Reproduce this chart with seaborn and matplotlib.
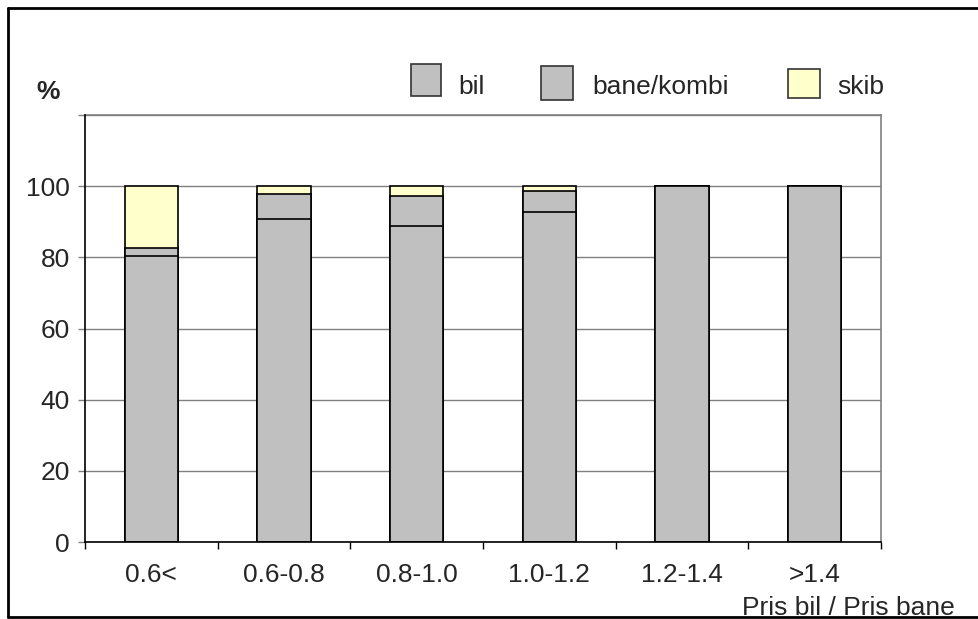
import matplotlib
matplotlib.use("Agg")
import matplotlib.pyplot as plt
from matplotlib.patches import Rectangle
from matplotlib.lines import Line2D
import numpy as np
import pandas as pd
import seaborn as sns

# Price-ratio classes (car price / rail price) and mode shares in percent
categories = ["0.6<", "0.6-0.8", "0.8-1.0", "1.0-1.2", "1.2-1.4", ">1.4"]
bil = [80.4, 90.9, 88.9, 92.6, 100.0, 100.0]
bane_kombi = [2.1, 6.8, 8.3, 6.1, 0.0, 0.0]
skib = [17.5, 2.3, 2.8, 1.3, 0.0, 0.0]
series_names = ["bil", "bane/kombi", "skib"]
y_ticks = [0, 20, 40, 60, 80, 100, 120]

GREY = "#c0c0c0"
YELLOW = "#ffffcc"
FONT = "Liberation Sans"
FS = 19

sns.set_theme(style="white")
plt.rcParams["font.family"] = [FONT, "DejaVu Sans"]

df = pd.DataFrame({"kat": categories, "bil": bil, "bane": bane_kombi, "skib": skib})
df["lvl_bil"] = df["bil"]
df["lvl_bane"] = df["bil"] + df["bane"]
df["lvl_skib"] = df["lvl_bane"] + df["skib"]

W, H = 979, 619
fig = plt.figure(figsize=(W / 100, H / 100), dpi=100)
ax = fig.add_axes([85 / W, 1 - 542 / H, (881 - 85) / W, (542 - 115) / H])

# stacked bars drawn as overlapping cumulative layers, top layer first
for col, colr in [("lvl_skib", YELLOW), ("lvl_bane", GREY), ("lvl_bil", GREY)]:
    sns.barplot(data=df, x="kat", y=col, order=categories, color=colr,
                width=0.4, edgecolor="black", linewidth=1.2, saturation=1,
                ax=ax, zorder=3)

ax.set_xlim(-0.5, len(categories) - 0.5)
ax.set_ylim(0, 120)
ax.set_xlabel("")
ax.set_ylabel("")

ax.set_yticks(y_ticks)
ax.set_yticklabels([str(t) if t < 120 else "" for t in y_ticks],
                   fontsize=FS, fontfamily=FONT)
ax.tick_params(axis="y", length=5, width=1, color="#808080", pad=6, direction="out", left=True)
ax.yaxis.grid(True, color="#808080", linewidth=1, zorder=0)
ax.xaxis.grid(False)

ax.set_xticks(range(len(categories)))
ax.set_xticklabels(categories, fontsize=FS, fontfamily=FONT)
ax.tick_params(axis="x", which="major", length=0, pad=15)
ax.set_xticks(np.arange(-0.5, len(categories), 1.0), minor=True)
ax.tick_params(axis="x", which="minor", length=5, width=1, color="black", direction="out", bottom=True)

for side in ["left", "bottom"]:
    ax.spines[side].set_color("black")
    ax.spines[side].set_linewidth(1.2)
for side in ["top", "right"]:
    ax.spines[side].set_color("#808080")
    ax.spines[side].set_linewidth(1.2)
    ax.spines[side].set_visible(True)
ax.spines["left"].set_zorder(4)
ax.spines["bottom"].set_zorder(4)

# legend row
def px(x, y):
    return x / W, 1 - y / H

legend_items = [
    (series_names[0], GREY, 411, 64, 441, 96, 458),
    (series_names[1], GREY, 541, 66, 573, 100, 592),
    (series_names[2], YELLOW, 788, 69, 820, 98, 837),
]
for name, colr, x0, y0, x1, y1, tx in legend_items:
    fx, fy = px(x0, y1)
    fig.add_artist(Rectangle((fx, fy), (x1 - x0) / W, (y1 - y0) / H,
                             transform=fig.transFigure, facecolor=colr,
                             edgecolor="#333333", linewidth=1.2))
    fig.text(*px(tx, 87), name, fontsize=FS, fontfamily=FONT, va="center", ha="left")

fig.text(*px(48, 92), "%", fontsize=FS, fontweight="bold", fontfamily=FONT,
         ha="center", va="center")
fig.text(*px(955, 608), "Pris bil / Pris bane", fontsize=FS, fontfamily=FONT,
         ha="right", va="center")

# outer frame (open on the right)
frame_kw = dict(transform=fig.transFigure, color="black", linewidth=2)
fig.add_artist(Line2D([8 / W, 1.0], [1 - 8 / H, 1 - 8 / H], **frame_kw))
fig.add_artist(Line2D([8 / W, 8 / W], [1 - 8 / H, 1 - 617 / H], **frame_kw))
fig.add_artist(Line2D([8 / W, 1.0], [1 - 617 / H, 1 - 617 / H], **frame_kw))

fig.savefig("out.png", dpi=100)
